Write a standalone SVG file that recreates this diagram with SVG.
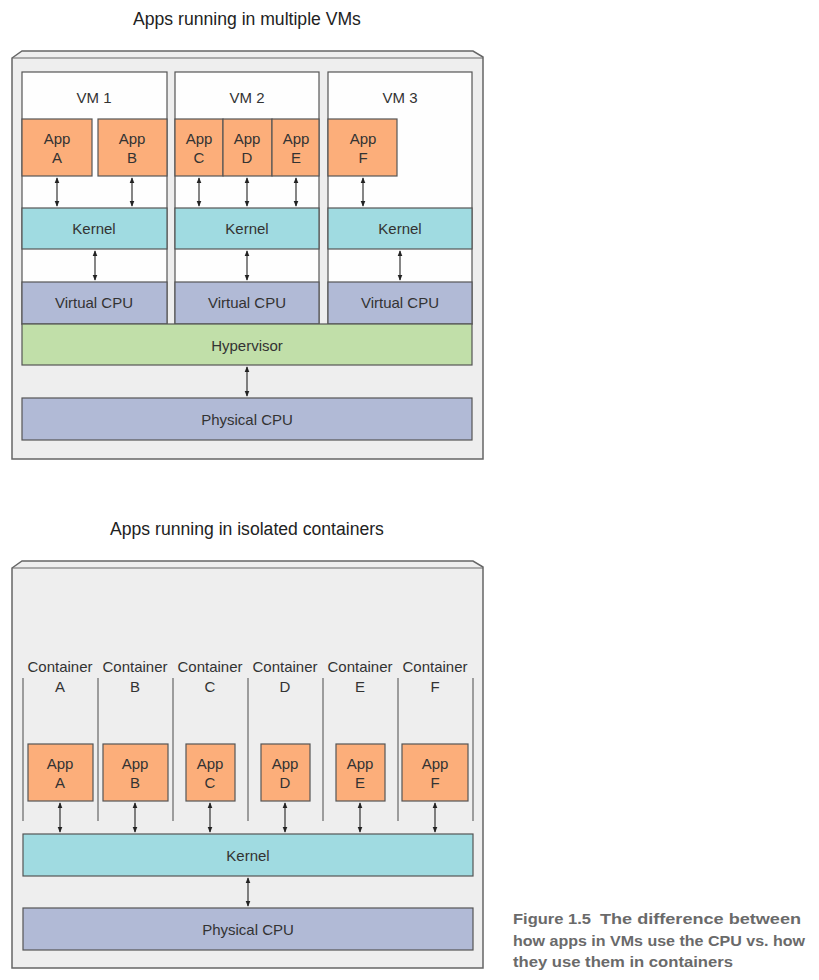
<svg xmlns="http://www.w3.org/2000/svg" width="819" height="980" viewBox="0 0 819 980">
  <style>
    .frame { fill: #eeeeee; stroke: #666666; stroke-width: 1.5; }
    .vm { fill: #fefefe; stroke: #555555; stroke-width: 1.2; }
    .app { fill: #fcae7a; stroke: #555555; stroke-width: 1.2; }
    .kernel { fill: #a0dbe1; stroke: #555555; stroke-width: 1.2; }
    .cpu { fill: #b1bad6; stroke: #555555; stroke-width: 1.2; }
    .hyper { fill: #c1dfa9; stroke: #555555; stroke-width: 1.2; }
    .sep { stroke: #666666; stroke-width: 1.2; }
    text { font-family: "Liberation Sans", Arial, sans-serif; font-size: 15px; fill: #333333; text-anchor: middle; }
    .title { font-size: 17.6px; fill: #222222; }
    .caption { font-weight: bold; font-size: 15px; fill: #6a6a6a; text-anchor: start; }
    .arrow { stroke: #222222; stroke-width: 1.1; fill: none; marker-start: url(#head); marker-end: url(#head); }
  </style>
  <defs>
    <marker id="head" viewBox="0 0 8 8" refX="7" refY="4" markerWidth="6" markerHeight="6" orient="auto-start-reverse" markerUnits="userSpaceOnUse">
      <path d="M0,0.8 L8,4 L0,7.2 Z" fill="#222222"/>
    </marker>
  </defs>
  <rect width="819" height="980" fill="#ffffff"/>

  <!-- Top: virtual machines -->
  <text class="title" x="247" y="25">Apps running in multiple VMs</text>
  <g id="vm-host">
    <polygon class="frame" points="12,58 22,51 473,51 483,57 483,459 12,459"/>
    <polyline points="12,58 483,58" fill="none" stroke="#666666" stroke-width="1"/>
  </g>

  <g id="vm1">
    <rect class="vm" x="22" y="72" width="145" height="252"/>
    <text x="94" y="103">VM 1</text>
  </g>
  <g id="vm2">
    <rect class="vm" x="175" y="72" width="144" height="252"/>
    <text x="247" y="103">VM 2</text>
  </g>
  <g id="vm3">
    <rect class="vm" x="328" y="72" width="144" height="252"/>
    <text x="400" y="103">VM 3</text>
  </g>

  <g id="vm-app-a"><rect class="app" x="22" y="119" width="70" height="57"/><text x="57" y="144">App</text><text x="57" y="163">A</text></g>
  <g id="vm-app-b"><rect class="app" x="98" y="119" width="69" height="57"/><text x="132" y="144">App</text><text x="132" y="163">B</text></g>
  <g id="vm-app-c"><rect class="app" x="175" y="119" width="48" height="57"/><text x="199" y="144">App</text><text x="199" y="163">C</text></g>
  <g id="vm-app-d"><rect class="app" x="223" y="119" width="49" height="57"/><text x="247" y="144">App</text><text x="247" y="163">D</text></g>
  <g id="vm-app-e"><rect class="app" x="272" y="119" width="47" height="57"/><text x="296" y="144">App</text><text x="296" y="163">E</text></g>
  <g id="vm-app-f"><rect class="app" x="328" y="119" width="69" height="57"/><text x="363" y="144">App</text><text x="363" y="163">F</text></g>

  <g id="vm1-kernel"><rect class="kernel" x="22" y="208" width="145" height="41"/><text x="94" y="234">Kernel</text></g>
  <g id="vm2-kernel"><rect class="kernel" x="175" y="208" width="144" height="41"/><text x="247" y="234">Kernel</text></g>
  <g id="vm3-kernel"><rect class="kernel" x="328" y="208" width="144" height="41"/><text x="400" y="234">Kernel</text></g>

  <g id="vm1-vcpu"><rect class="cpu" x="22" y="282" width="145" height="42"/><text x="94" y="308">Virtual CPU</text></g>
  <g id="vm2-vcpu"><rect class="cpu" x="175" y="282" width="144" height="42"/><text x="247" y="308">Virtual CPU</text></g>
  <g id="vm3-vcpu"><rect class="cpu" x="328" y="282" width="144" height="42"/><text x="400" y="308">Virtual CPU</text></g>

  <g id="hypervisor"><rect class="hyper" x="22" y="324" width="450" height="41"/><text x="247" y="351">Hypervisor</text></g>
  <g id="vm-physical-cpu"><rect class="cpu" x="22" y="398" width="450" height="42"/><text x="247" y="425">Physical CPU</text></g>

  <g id="vm-connectors">
    <line class="arrow" x1="57" y1="178" x2="57" y2="206"/>
    <line class="arrow" x1="132" y1="178" x2="132" y2="206"/>
    <line class="arrow" x1="199" y1="178" x2="199" y2="206"/>
    <line class="arrow" x1="247" y1="178" x2="247" y2="206"/>
    <line class="arrow" x1="296" y1="178" x2="296" y2="206"/>
    <line class="arrow" x1="363" y1="178" x2="363" y2="206"/>
    <line class="arrow" x1="95" y1="251" x2="95" y2="280"/>
    <line class="arrow" x1="247" y1="251" x2="247" y2="280"/>
    <line class="arrow" x1="400" y1="251" x2="400" y2="280"/>
    <line class="arrow" x1="247" y1="367" x2="247" y2="396"/>
  </g>

  <!-- Bottom: containers -->
  <text class="title" x="247" y="535">Apps running in isolated containers</text>
  <g id="container-host">
    <polygon class="frame" points="12,568 22,561 473,561 483,567 483,968 12,968"/>
    <polyline points="12,568 483,568" fill="none" stroke="#666666" stroke-width="1"/>
  </g>

  <g id="container-separators">
    <line class="sep" x1="23" y1="678" x2="23" y2="821"/>
    <line class="sep" x1="98" y1="678" x2="98" y2="821"/>
    <line class="sep" x1="173" y1="678" x2="173" y2="821"/>
    <line class="sep" x1="248" y1="678" x2="248" y2="821"/>
    <line class="sep" x1="323" y1="678" x2="323" y2="821"/>
    <line class="sep" x1="398" y1="678" x2="398" y2="821"/>
    <line class="sep" x1="473" y1="678" x2="473" y2="821"/>
  </g>

  <g id="container-a"><text x="60" y="672">Container</text><text x="60" y="692">A</text>
    <rect class="app" x="28" y="744" width="65" height="57"/><text x="60" y="769">App</text><text x="60" y="788">A</text></g>
  <g id="container-b"><text x="135" y="672">Container</text><text x="135" y="692">B</text>
    <rect class="app" x="103" y="744" width="65" height="57"/><text x="135" y="769">App</text><text x="135" y="788">B</text></g>
  <g id="container-c"><text x="210" y="672">Container</text><text x="210" y="692">C</text>
    <rect class="app" x="186" y="744" width="49" height="57"/><text x="210" y="769">App</text><text x="210" y="788">C</text></g>
  <g id="container-d"><text x="285" y="672">Container</text><text x="285" y="692">D</text>
    <rect class="app" x="261" y="744" width="49" height="57"/><text x="285" y="769">App</text><text x="285" y="788">D</text></g>
  <g id="container-e"><text x="360" y="672">Container</text><text x="360" y="692">E</text>
    <rect class="app" x="336" y="744" width="49" height="57"/><text x="360" y="769">App</text><text x="360" y="788">E</text></g>
  <g id="container-f"><text x="435" y="672">Container</text><text x="435" y="692">F</text>
    <rect class="app" x="402" y="744" width="66" height="57"/><text x="435" y="769">App</text><text x="435" y="788">F</text></g>

  <g id="shared-kernel"><rect class="kernel" x="23" y="834" width="450" height="42"/><text x="248" y="861">Kernel</text></g>
  <g id="container-physical-cpu"><rect class="cpu" x="23" y="908" width="450" height="42"/><text x="248" y="935">Physical CPU</text></g>

  <g id="container-connectors">
    <line class="arrow" x1="60" y1="803" x2="60" y2="832"/>
    <line class="arrow" x1="135" y1="803" x2="135" y2="832"/>
    <line class="arrow" x1="210" y1="803" x2="210" y2="832"/>
    <line class="arrow" x1="285" y1="803" x2="285" y2="832"/>
    <line class="arrow" x1="360" y1="803" x2="360" y2="832"/>
    <line class="arrow" x1="435" y1="803" x2="435" y2="832"/>
    <line class="arrow" x1="248" y1="878" x2="248" y2="906"/>
  </g>

  <g id="caption">
    <text class="caption" x="513" y="924"><tspan textLength="78" lengthAdjust="spacingAndGlyphs">Figure 1.5</tspan><tspan x="600" textLength="201" lengthAdjust="spacingAndGlyphs">The difference between</tspan></text>
    <text class="caption" x="513" y="946" textLength="292" lengthAdjust="spacingAndGlyphs">how apps in VMs use the CPU vs. how</text>
    <text class="caption" x="513" y="967" textLength="220" lengthAdjust="spacingAndGlyphs">they use them in containers</text>
  </g>
</svg>
